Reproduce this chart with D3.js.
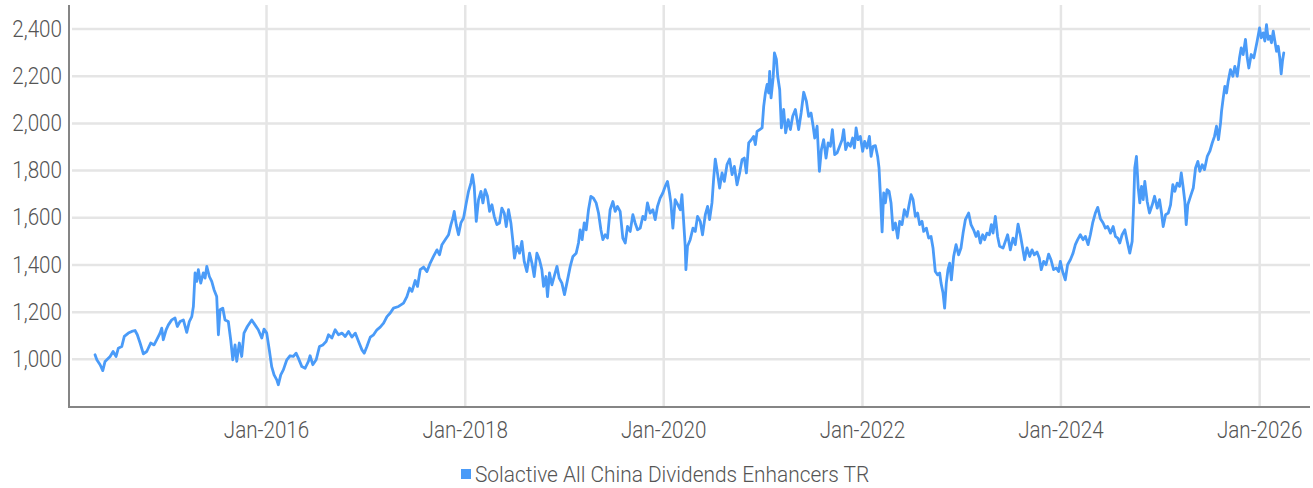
<!DOCTYPE html>
<html>
<head>
<meta charset="utf-8">
<script src="https://cdn.jsdelivr.net/npm/d3@7"></script>
<style>
  html, body { margin: 0; padding: 0; background: #ffffff; }
  svg { display: block; }
  text { font-family: "Roboto", "Liberation Sans Narrow", sans-serif; font-weight: 300; }
</style>
</head>
<body>
<svg id="chart" width="1313" height="488"></svg>
<script>
// ---- data (decimal year, index level) ----
const seriesName = "Solactive All China Dividends Enhancers TR";
const yTickValues = [1000, 1200, 1400, 1600, 1800, 2000, 2200, 2400];
const xTickYears = [2016, 2018, 2020, 2022, 2024, 2026];
const indexSeries = [
  [2014.277,1017],[2014.295,996],[2014.328,975],[2014.355,950],[2014.378,989],[2014.429,1010],[2014.459,1031],[2014.489,1010],[2014.512,1045],[2014.546,1052],
  [2014.572,1095],[2014.613,1109],[2014.647,1116],[2014.680,1120],[2014.703,1102],[2014.731,1067],[2014.764,1021],[2014.798,1031],[2014.838,1067],[2014.872,1059],
  [2014.899,1081],[2014.932,1109],[2014.949,1130],[2014.965,1081],[2014.993,1123],[2015.016,1144],[2015.050,1165],[2015.083,1173],[2015.106,1137],[2015.134,1158],
  [2015.167,1165],[2015.201,1112],[2015.227,1158],[2015.252,1179],[2015.268,1222],[2015.285,1364],[2015.302,1328],[2015.318,1378],[2015.342,1321],[2015.368,1364],
  [2015.386,1342],[2015.403,1392],[2015.429,1349],[2015.453,1328],[2015.476,1293],[2015.503,1264],[2015.520,1102],[2015.537,1208],[2015.564,1215],[2015.587,1165],
  [2015.620,1158],[2015.644,1081],[2015.665,996],[2015.688,1059],[2015.705,989],[2015.731,1067],[2015.755,1010],[2015.778,1109],[2015.812,1137],[2015.856,1165],
  [2015.889,1144],[2015.922,1123],[2015.957,1088],[2015.980,1126],[2016.007,1109],[2016.033,1038],[2016.057,967],[2016.081,932],[2016.108,911],[2016.124,890],
  [2016.148,932],[2016.174,953],[2016.209,996],[2016.242,1013],[2016.275,1010],[2016.302,1024],[2016.325,1003],[2016.360,967],[2016.393,960],[2016.426,989],
  [2016.443,1013],[2016.470,975],[2016.504,996],[2016.537,1052],[2016.571,1059],[2016.604,1073],[2016.628,1102],[2016.662,1088],[2016.695,1123],[2016.728,1102],
  [2016.763,1109],[2016.796,1095],[2016.829,1116],[2016.863,1092],[2016.897,1109],[2016.930,1073],[2016.964,1038],[2016.987,1024],[2017.014,1052],[2017.048,1092],
  [2017.081,1102],[2017.115,1123],[2017.148,1134],[2017.182,1151],[2017.216,1179],[2017.249,1194],[2017.282,1215],[2017.333,1222],[2017.383,1236],[2017.417,1264],
  [2017.444,1300],[2017.468,1286],[2017.501,1332],[2017.524,1307],[2017.551,1378],[2017.585,1389],[2017.619,1370],[2017.652,1406],[2017.685,1434],[2017.720,1462],
  [2017.746,1441],[2017.770,1484],[2017.803,1505],[2017.837,1526],[2017.861,1569],[2017.881,1597],[2017.894,1625],[2017.914,1569],[2017.937,1526],[2017.961,1576],
  [2017.988,1597],[2018.015,1661],[2018.038,1710],[2018.062,1745],[2018.078,1781],[2018.095,1731],[2018.116,1583],[2018.139,1675],[2018.163,1710],[2018.183,1661],
  [2018.206,1717],[2018.229,1689],[2018.250,1625],[2018.274,1653],[2018.297,1604],[2018.324,1569],[2018.350,1576],[2018.374,1639],[2018.398,1618],[2018.418,1561],
  [2018.441,1632],[2018.465,1576],[2018.485,1498],[2018.501,1427],[2018.526,1477],[2018.552,1448],[2018.576,1498],[2018.599,1413],[2018.626,1370],[2018.653,1448],
  [2018.677,1406],[2018.700,1349],[2018.727,1448],[2018.753,1420],[2018.777,1378],[2018.794,1307],[2018.818,1349],[2018.834,1264],[2018.854,1364],[2018.878,1314],
  [2018.901,1349],[2018.929,1392],[2018.952,1342],[2018.979,1321],[2019.005,1272],[2019.029,1321],[2019.063,1392],[2019.090,1434],[2019.123,1448],[2019.146,1491],
  [2019.163,1547],[2019.183,1505],[2019.204,1576],[2019.224,1547],[2019.247,1632],[2019.271,1689],[2019.297,1681],[2019.324,1661],[2019.348,1618],[2019.372,1547],
  [2019.392,1505],[2019.415,1526],[2019.438,1512],[2019.465,1632],[2019.493,1667],[2019.516,1625],[2019.539,1646],[2019.566,1625],[2019.593,1512],[2019.617,1491],
  [2019.640,1561],[2019.667,1540],[2019.694,1611],[2019.717,1576],[2019.741,1547],[2019.768,1554],[2019.795,1604],[2019.818,1590],[2019.841,1661],[2019.868,1618],
  [2019.896,1632],[2019.919,1590],[2019.942,1646],[2019.969,1681],[2019.996,1703],[2020.020,1731],[2020.043,1752],[2020.063,1703],[2020.077,1661],[2020.097,1554],
  [2020.120,1675],[2020.148,1653],[2020.171,1632],[2020.188,1696],[2020.204,1590],[2020.221,1477],[2020.228,1378],[2020.244,1477],[2020.271,1505],[2020.299,1554],
  [2020.322,1540],[2020.345,1604],[2020.372,1583],[2020.395,1526],[2020.423,1611],[2020.446,1646],[2020.466,1590],[2020.490,1661],[2020.506,1760],[2020.523,1847],
  [2020.540,1802],[2020.567,1724],[2020.591,1788],[2020.614,1752],[2020.641,1823],[2020.667,1847],[2020.692,1781],[2020.715,1816],[2020.742,1738],[2020.768,1788],
  [2020.792,1844],[2020.815,1851],[2020.836,1788],[2020.859,1915],[2020.886,1929],[2020.909,1943],[2020.926,1908],[2020.943,1964],[2020.970,1972],[2020.994,1979],
  [2021.010,2071],[2021.027,2127],[2021.044,2163],[2021.060,2127],[2021.070,2219],[2021.084,2106],[2021.105,2191],[2021.118,2297],[2021.138,2269],[2021.151,2198],
  [2021.171,2141],[2021.188,1979],[2021.211,2057],[2021.231,1958],[2021.256,2014],[2021.279,1972],[2021.302,2028],[2021.329,2057],[2021.346,2014],[2021.362,1972],
  [2021.387,2042],[2021.413,2130],[2021.440,2092],[2021.463,2028],[2021.487,2042],[2021.508,1986],[2021.524,1936],[2021.548,1986],[2021.571,1795],[2021.591,1887],
  [2021.614,1929],[2021.638,1851],[2021.659,1915],[2021.682,1901],[2021.702,1972],[2021.725,1866],[2021.749,1873],[2021.775,1901],[2021.800,1929],[2021.816,1972],
  [2021.836,1887],[2021.860,1915],[2021.883,1901],[2021.906,1936],[2021.924,1894],[2021.941,1979],[2021.961,1929],[2021.984,1943],[2022.007,1880],[2022.027,1922],
  [2022.051,1894],[2022.075,1943],[2022.092,1858],[2022.112,1901],[2022.135,1904],[2022.158,1858],[2022.172,1809],[2022.185,1703],[2022.203,1538],[2022.219,1703],
  [2022.236,1661],[2022.253,1717],[2022.273,1710],[2022.293,1661],[2022.313,1547],[2022.337,1576],[2022.360,1512],[2022.380,1583],[2022.404,1569],[2022.427,1632],
  [2022.454,1604],[2022.475,1653],[2022.495,1696],[2022.515,1675],[2022.538,1604],[2022.561,1618],[2022.581,1569],[2022.605,1583],[2022.622,1540],[2022.649,1554],
  [2022.672,1512],[2022.696,1519],[2022.716,1470],[2022.739,1370],[2022.763,1356],[2022.783,1364],[2022.797,1321],[2022.817,1279],[2022.833,1215],[2022.850,1321],
  [2022.867,1378],[2022.884,1406],[2022.901,1335],[2022.924,1434],[2022.948,1484],[2022.974,1441],[2022.998,1470],[2023.019,1533],[2023.042,1590],[2023.075,1618],
  [2023.099,1569],[2023.125,1547],[2023.150,1519],[2023.170,1540],[2023.193,1491],[2023.216,1526],[2023.236,1505],[2023.260,1533],[2023.284,1526],[2023.304,1569],
  [2023.321,1533],[2023.344,1604],[2023.367,1519],[2023.387,1477],[2023.422,1470],[2023.445,1498],[2023.468,1526],[2023.495,1462],[2023.522,1512],[2023.545,1484],
  [2023.573,1571],[2023.596,1526],[2023.619,1470],[2023.639,1420],[2023.663,1470],[2023.690,1434],[2023.714,1462],[2023.737,1441],[2023.764,1453],[2023.787,1427],
  [2023.807,1378],[2023.831,1413],[2023.855,1399],[2023.881,1444],[2023.905,1420],[2023.931,1378],[2023.959,1385],[2023.982,1370],[2023.999,1413],[2024.022,1370],
  [2024.049,1335],[2024.072,1399],[2024.100,1420],[2024.127,1448],[2024.150,1484],[2024.173,1505],[2024.200,1526],[2024.227,1505],[2024.251,1519],[2024.278,1484],
  [2024.301,1526],[2024.324,1576],[2024.351,1618],[2024.375,1642],[2024.402,1594],[2024.429,1576],[2024.452,1554],[2024.475,1561],[2024.503,1533],[2024.530,1561],
  [2024.553,1519],[2024.576,1512],[2024.596,1491],[2024.620,1526],[2024.647,1547],[2024.671,1498],[2024.697,1448],[2024.721,1498],[2024.737,1667],[2024.747,1809],
  [2024.764,1858],[2024.782,1724],[2024.798,1661],[2024.815,1731],[2024.832,1675],[2024.848,1752],[2024.872,1667],[2024.895,1618],[2024.923,1653],[2024.946,1689],
  [2024.973,1639],[2024.996,1675],[2025.016,1618],[2025.033,1561],[2025.057,1611],[2025.084,1618],[2025.107,1653],[2025.130,1738],[2025.150,1710],[2025.174,1745],
  [2025.198,1731],[2025.215,1788],[2025.235,1724],[2025.251,1667],[2025.265,1569],[2025.281,1653],[2025.308,1689],[2025.336,1724],[2025.359,1809],[2025.382,1837],
  [2025.402,1795],[2025.426,1823],[2025.449,1802],[2025.477,1858],[2025.503,1880],[2025.527,1915],[2025.550,1943],[2025.570,1986],[2025.590,1929],[2025.611,2000],
  [2025.621,2050],[2025.638,2106],[2025.654,2155],[2025.671,2127],[2025.688,2177],[2025.711,2226],[2025.735,2198],[2025.755,2240],[2025.779,2198],[2025.802,2276],
  [2025.819,2318],[2025.839,2290],[2025.862,2354],[2025.880,2276],[2025.896,2233],[2025.920,2290],[2025.946,2276],[2025.963,2311],[2025.980,2347],[2026.004,2403],
  [2026.021,2361],[2026.041,2382],[2026.057,2347],[2026.074,2417],[2026.091,2354],[2026.107,2368],[2026.124,2340],[2026.142,2389],[2026.158,2347],[2026.175,2304],
  [2026.192,2325],[2026.208,2276],[2026.222,2208],[2026.235,2262],[2026.248,2297]
];

// ---- helpers ----
function yearToDate(y) {
  const yr = Math.floor(y);
  const start = Date.UTC(yr, 0, 1), end = Date.UTC(yr + 1, 0, 1);
  return new Date(start + (y - yr) * (end - start));
}
const data = indexSeries.map(([t, v]) => ({ date: yearToDate(t), value: v }));

// ---- layout ----
const svg = d3.select("#chart");
const plot = { left: 70, right: 1310, top: 5, bottom: 406 };
const FONT = '"Roboto", sans-serif';
const FONT_COLOR = "#555555";
const LINE_COLOR = "#4a9bf8";
const GRID_COLOR = "#e5e5e5";
const AXIS_COLOR = "#858585";

const x = d3.scaleUtc()
  .domain([new Date(Date.UTC(2014, 0, 10)), new Date(Date.UTC(2026, 6, 7))])
  .range([plot.left, plot.right]);
const y = d3.scaleLinear().domain([800, 2500]).range([plot.bottom, plot.top]);

// condense a text element horizontally around its own anchor point
function condense(sel, k) {
  sel.each(function () {
    const t = d3.select(this);
    const ax = +t.attr("x") || 0;
    t.attr("transform", `translate(${ax},0) scale(${k},1) translate(${-ax},0)`);
  });
}

// horizontal gridlines + labels via axis
const yAxis = d3.axisLeft(y)
  .tickValues(yTickValues)
  .tickFormat(d3.format(","))
  .tickSize(-(plot.right - plot.left))
  .tickPadding(10);
const gy = svg.append("g").attr("transform", `translate(${plot.left},0)`).call(yAxis);
gy.select(".domain").remove();
gy.selectAll(".tick line").attr("stroke", GRID_COLOR).attr("stroke-width", 2.5).attr("x1", 2);
gy.selectAll(".tick text")
  .attr("fill", FONT_COLOR).attr("font-size", 24).attr("x", -8)
  .style("font-family", FONT).style("font-weight", 300)
  .call(condense, 0.86);

// vertical gridlines + labels
const xTicks = xTickYears.map(yr => new Date(Date.UTC(yr, 0, 1)));
const xAxis = d3.axisBottom(x)
  .tickValues(xTicks)
  .tickFormat(d3.utcFormat("%b-%Y"))
  .tickSize(-(plot.bottom - plot.top))
  .tickPadding(15);
const gx = svg.append("g").attr("transform", `translate(0,${plot.bottom})`).call(xAxis);
gx.select(".domain").remove();
gx.selectAll(".tick line").attr("stroke", GRID_COLOR).attr("stroke-width", 2.5);
gx.selectAll(".tick text")
  .attr("fill", FONT_COLOR).attr("font-size", 24)
  .style("font-family", FONT).style("font-weight", 300)
  .call(condense, 0.86);

// axis lines
svg.append("line")
  .attr("x1", plot.left - 1).attr("x2", plot.left - 1)
  .attr("y1", plot.top).attr("y2", plot.bottom + 1)
  .attr("stroke", AXIS_COLOR).attr("stroke-width", 2);
svg.append("line")
  .attr("x1", plot.left - 2).attr("x2", plot.right)
  .attr("y1", plot.bottom + 1).attr("y2", plot.bottom + 1)
  .attr("stroke", AXIS_COLOR).attr("stroke-width", 2);

// series line
const line = d3.line().x(d => x(d.date)).y(d => y(d.value));
svg.append("path")
  .datum(data)
  .attr("d", line)
  .attr("fill", "none")
  .attr("stroke", LINE_COLOR)
  .attr("stroke-width", 2.8)
  .attr("stroke-linejoin", "round")
  .attr("stroke-linecap", "round");

// legend
const legend = svg.append("g").attr("transform", "translate(461,469)");
legend.append("rect").attr("width", 10).attr("height", 10).attr("fill", LINE_COLOR);
legend.append("text")
  .attr("x", 14).attr("y", 5).attr("dy", "0.38em")
  .attr("fill", FONT_COLOR).attr("font-size", 22)
  .style("font-family", FONT).style("font-weight", 300)
  .text(seriesName)
  .call(condense, 0.95);
</script>
</body>
</html>
